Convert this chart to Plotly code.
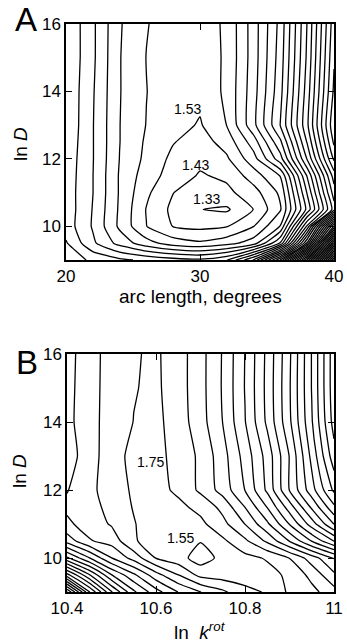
import plotly.graph_objects as go

# ---------------- Panel A data: misfit over arc length (deg) and ln D ----------------
arc_length = [20, 22, 24, 26, 28, 30, 32, 34, 36, 38, 40]
lnD_A = [9, 9.5, 10, 10.5, 11, 11.5, 12, 12.5, 13, 14, 15, 16]
fit_A = [
    [2.190, 2.110, 2.050, 2.010, 1.970, 1.950, 2.025, 2.340, 3.040, 4.150, 5.560],
    [2.140, 1.950, 1.795, 1.670, 1.580, 1.545, 1.590, 1.680, 2.040, 3.050, 4.560],
    [2.085, 1.920, 1.710, 1.532, 1.425, 1.405, 1.425, 1.528, 1.735, 2.550, 3.750],
    [2.090, 1.925, 1.715, 1.525, 1.405, 1.332, 1.315, 1.432, 1.620, 2.160, 2.780],
    [2.085, 1.932, 1.720, 1.550, 1.432, 1.380, 1.405, 1.490, 1.650, 2.240, 2.880],
    [2.090, 1.932, 1.720, 1.580, 1.485, 1.420, 1.450, 1.580, 1.735, 2.340, 2.980],
    [2.095, 1.935, 1.728, 1.605, 1.505, 1.455, 1.515, 1.690, 1.990, 2.540, 3.150],
    [2.105, 1.935, 1.732, 1.615, 1.535, 1.485, 1.570, 1.780, 2.110, 2.640, 3.250],
    [2.115, 1.935, 1.732, 1.627, 1.570, 1.520, 1.632, 1.900, 2.235, 2.710, 3.310],
    [2.115, 1.940, 1.735, 1.632, 1.570, 1.560, 1.650, 1.890, 2.200, 2.680, 3.250],
    [2.120, 1.950, 1.735, 1.628, 1.580, 1.575, 1.645, 1.880, 2.180, 2.650, 3.220],
    [2.120, 1.950, 1.740, 1.635, 1.585, 1.580, 1.647, 1.880, 2.165, 2.635, 3.190],
]
levels_A = dict(start=1.33, end=6.0, size=0.1)
labels_A = ["1.53", "1.43", "1.33"]
ticks_A_x = [20, 30, 40]

# ---------------- Panel B data: misfit over ln k_rot and ln D ----------------
ln_krot = [10.40, 10.45, 10.50, 10.55, 10.60, 10.65, 10.70, 10.75, 10.80, 10.85, 10.90, 10.95, 11.00]
lnD_B = [9, 9.5, 10, 10.5, 11, 11.5, 12, 13, 14, 15, 16]
fit_B = [
    [5.57, 4.37, 3.57, 2.99, 2.63, 2.346, 2.154, 1.99, 1.81, 1.73, 1.754, 1.89, 2.07],
    [4.23, 3.57, 2.96, 2.59, 2.23, 1.954, 1.69, 1.65, 1.65, 1.68, 1.79, 2.01, 2.31],
    [3.19, 2.76, 2.354, 2.07, 1.74, 1.63, 1.45, 1.61, 1.69, 1.77, 1.954, 2.25, 2.56],
    [2.47, 2.17, 2.07, 1.77, 1.66, 1.61, 1.56, 1.71, 1.91, 2.19, 2.56, 2.96, 3.36],
    [2.19, 2.06, 1.93, 1.76, 1.66, 1.65, 1.70, 1.89, 2.154, 2.51, 2.96, 3.45, 3.96],
    [2.11, 2.07, 1.85, 1.74, 1.67, 1.70, 1.81, 2.01, 2.354, 2.76, 3.25, 3.79, 4.31],
    [2.16, 2.02, 1.82, 1.73, 1.68, 1.79, 1.99, 2.23, 2.554, 2.99, 3.56, 4.07, 4.59],
    [2.23, 2.06, 1.81, 1.71, 1.69, 1.82, 1.99, 2.27, 2.63, 3.03, 3.56, 4.21, 4.87],
    [2.21, 2.02, 1.866, 1.746, 1.70, 1.846, 2.066, 2.354, 2.74, 3.19, 3.71, 4.33, 5.03],
    [2.22, 2.02, 1.874, 1.76, 1.714, 1.86, 2.078, 2.37, 2.76, 3.21, 3.73, 4.36, 5.07],
    [2.23, 2.024, 1.876, 1.766, 1.72, 1.86, 2.078, 2.366, 2.754, 3.202, 3.716, 4.36, 5.07],
]
levels_B = dict(start=1.55, end=6.0, size=0.2)
labels_B = ["1.75", "1.55"]
ticks_B_x = [10.4, 10.6, 10.8, 11.0]
ticks_B_xtext = ["10.4", "10.6", "10.8", "11"]
ticks_y = [10, 12, 14, 16]

FONT = "Arial, Liberation Sans, Helvetica, sans-serif"
W, H = 347, 643

fig = go.Figure()
fig.add_trace(go.Contour(
    x=arc_length, y=lnD_A, z=fit_A, xaxis="x", yaxis="y",
    contours=dict(coloring="none", showlabels=False, **levels_A),
    line=dict(color="black", width=1.3, smoothing=0.5),
    showscale=False, hoverinfo="skip"))
fig.add_trace(go.Contour(
    x=ln_krot, y=lnD_B, z=fit_B, xaxis="x2", yaxis="y2",
    contours=dict(coloring="none", showlabels=False, **levels_B),
    line=dict(color="black", width=1.3, smoothing=0.5),
    showscale=False, hoverinfo="skip"))

def px_x(p):
    return p / W

def px_y(p):
    return 1 - p / H

axis_common = dict(showline=True, linecolor="black", linewidth=1.5, mirror="ticks",
                   ticks="inside", ticklen=6, tickwidth=1.2, tickcolor="black",
                   showgrid=False, zeroline=False, automargin=False,
                   tickfont=dict(family=FONT, size=17, color="black"))

fig.update_layout(
    width=W, height=H, margin=dict(l=0, r=0, t=0, b=0, pad=0), autosize=False,
    paper_bgcolor="white", plot_bgcolor="white", showlegend=False,
    xaxis=dict(domain=[px_x(66), px_x(334)], range=[20, 40], tickvals=ticks_A_x,
               anchor="y", **axis_common),
    yaxis=dict(domain=[px_y(260), px_y(24)], range=[9, 16], tickvals=ticks_y,
               anchor="x", **axis_common),
    xaxis2=dict(domain=[px_x(67), px_x(334)], range=[10.4, 11.0], tickvals=ticks_B_x,
                ticktext=ticks_B_xtext, anchor="y2", **axis_common),
    yaxis2=dict(domain=[px_y(592), px_y(354)], range=[9, 16], tickvals=ticks_y,
                anchor="x2", **axis_common),
)

ann = []
def text(x, y, s, size, xref="paper", yref="paper", angle=0, xanchor="center", yanchor="middle"):
    ann.append(dict(x=x, y=y, xref=xref, yref=yref, text=s, showarrow=False,
                    textangle=angle, xanchor=xanchor, yanchor=yanchor,
                    font=dict(family=FONT, size=size, color="black")))

# panel letters
text(px_x(26), px_y(20), "A", 33)
text(px_x(27), px_y(362), "B", 33)
# axis titles
text(px_x(20), px_y(144), "ln <i>D</i>", 19, angle=-90)
text(px_x(20), px_y(471), "ln <i>D</i>", 19, angle=-90)
text(px_x(200), px_y(297), "arc length, degrees", 19)
text(px_x(200), px_y(631), "ln  <i>k</i><sup><i>rot</i></sup>", 19)
# contour labels
text(29.1, 13.47, labels_A[0], 14, xref="x", yref="y")
text(29.7, 11.82, labels_A[1], 14, xref="x", yref="y")
text(30.5, 10.82, labels_A[2], 14, xref="x", yref="y")
text(10.587, 12.83, labels_B[0], 14, xref="x2", yref="y2")
text(10.654, 10.58, labels_B[1], 14, xref="x2", yref="y2")

fig.update_layout(annotations=ann)
fig.write_html(
    "out.html",
    config={"displayModeBar": False, "responsive": False},
    post_script="document.body.style.margin='0';document.body.style.padding='0';"
                "document.documentElement.style.overflow='hidden';",
)
